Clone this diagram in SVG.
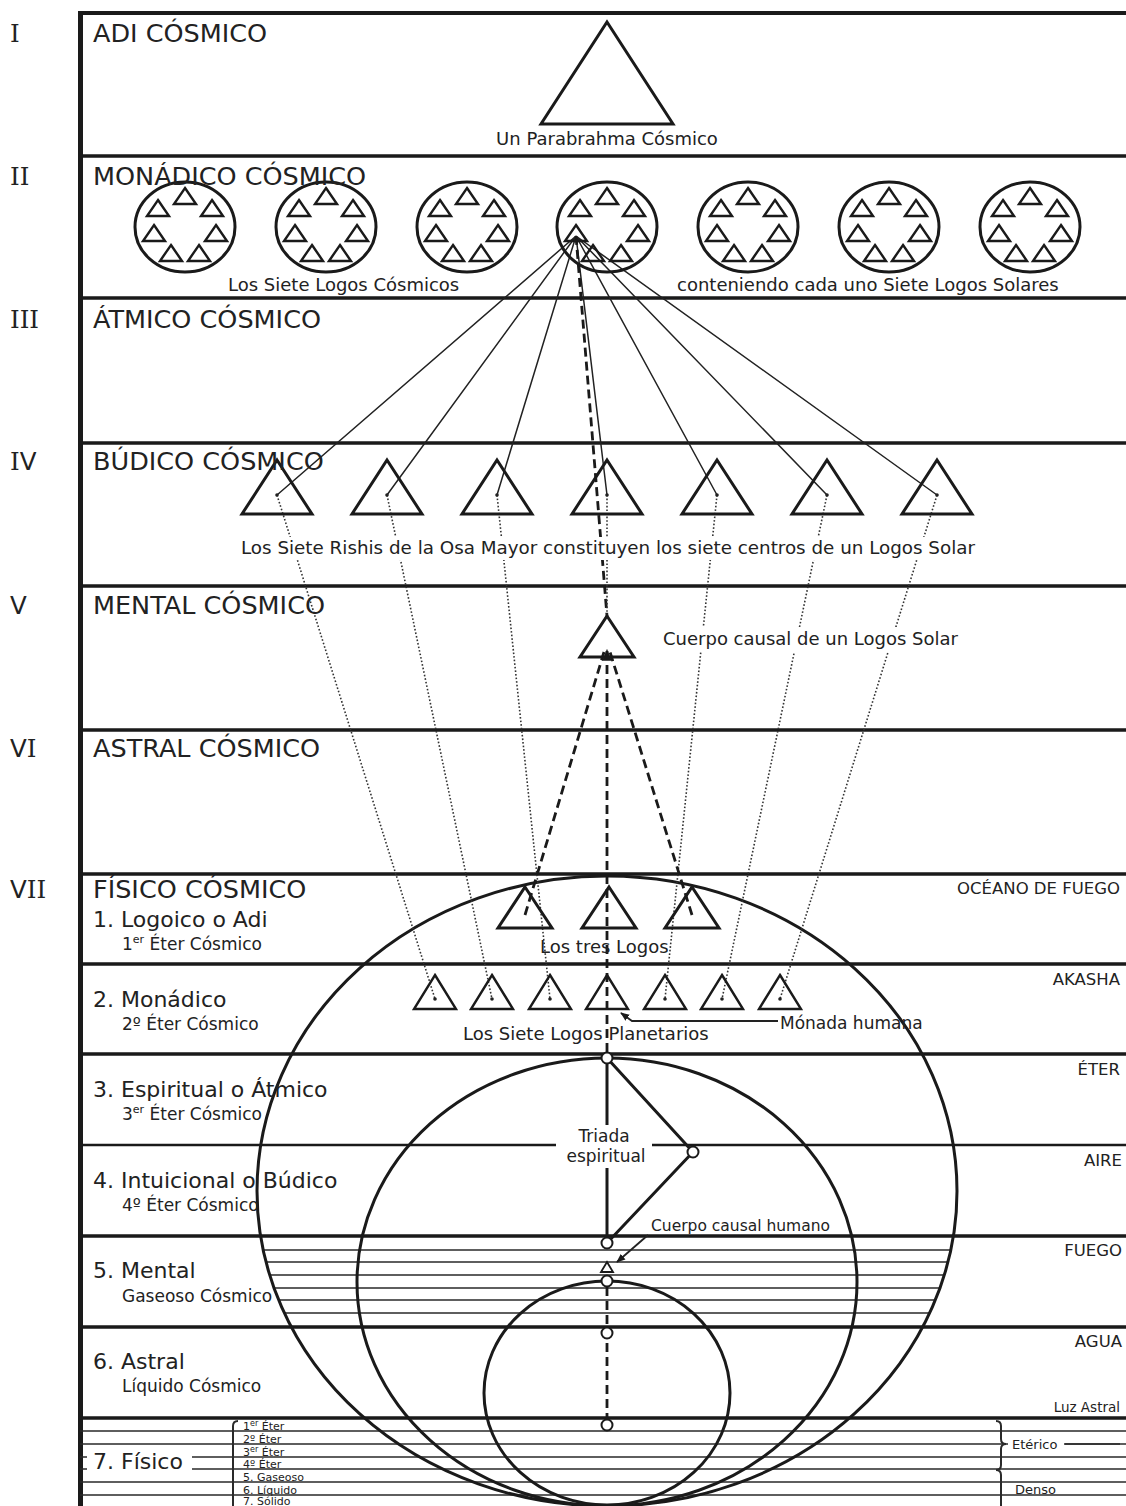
<svg xmlns="http://www.w3.org/2000/svg" width="1126" height="1506" viewBox="0 0 1126 1506">
<style>
text{font-family:"DejaVu Sans",Verdana,"Noto Sans",sans-serif;fill:#222}
.roman{font-size:24.5px}
.ser{font-family:"DejaVu Serif","Liberation Serif",serif}
.h{font-size:25.5px}
.p{font-size:22px}
.s{font-size:17px}
.lab{font-size:18px}
.rl{font-size:16.5px;text-anchor:end}
.xs{font-size:11px}
.br{font-size:13px}
.band{stroke:#1a1a1a;stroke-width:3.5;fill:none}
.thin{stroke:#2a2a2a;stroke-width:1.3;fill:none}
.shape{fill:none;stroke:#1a1a1a;stroke-width:3;stroke-linejoin:miter}
.tri-s{fill:none;stroke:#1a1a1a;stroke-width:2.4}
.dot{fill:#222}
.knot{fill:#fff;stroke:#1a1a1a;stroke-width:2}
.solid{stroke:#222;stroke-width:1.5;fill:none}
.dotted{stroke:#333;stroke-width:1.6;stroke-dasharray:1.6 2;fill:none}
.dashed{stroke:#1a1a1a;stroke-width:2.8;stroke-dasharray:9 5;fill:none}
.bg{fill:#fff}
</style>
<defs>
<path id="tri-small" class="tri-s" d="M0,-16 L11,0 L-11,0 Z"/>
<g id="cosmic-logo">
<ellipse cx="0" cy="0" rx="50" ry="45" class="shape"/>
<use href="#tri-small" x="0" y="-23"/>
<use href="#tri-small" x="-27" y="-11"/>
<use href="#tri-small" x="27" y="-11"/>
<use href="#tri-small" x="-31" y="14"/>
<use href="#tri-small" x="31" y="14"/>
<use href="#tri-small" x="-14" y="34"/>
<use href="#tri-small" x="14" y="34"/>
</g>
<path id="tri-rishi" class="shape" d="M0,0 L35,54 L-35,54 Z"/>
<path id="tri-planet" class="tri-s" d="M0,0 L21,34 L-21,34 Z"/>
<path id="tri-logos" class="shape" d="M0,0 L27,41 L-27,41 Z"/>
<marker id="arrow" viewBox="0 0 10 10" refX="9" refY="5" markerWidth="9" markerHeight="9" markerUnits="userSpaceOnUse" orient="auto"><path d="M0,1 L10,5 L0,9 Z" fill="#1a1a1a"/></marker>
<marker id="arrow-big" viewBox="0 0 10 10" refX="9" refY="5" markerWidth="12" markerHeight="12" markerUnits="userSpaceOnUse" orient="auto"><path d="M0,1 L10,5 L0,9 Z" fill="#1a1a1a"/></marker>
<clipPath id="clip-big"><ellipse cx="607" cy="1191" rx="350" ry="315"/></clipPath>
</defs>

<rect x="0" y="0" width="1126" height="1506" fill="#fff"/>

<g id="frame">
<path class="band" style="stroke-width:4" d="M78,13 H1126"/>
<path class="band" style="stroke-width:5" d="M80.5,11 V1506"/>
<path class="band" d="M80,156 H1126 M80,298 H1126 M80,443 H1126 M80,586 H1126 M80,730 H1126 M80,874 H1126 M80,964 H1126 M80,1054 H1126 M80,1236 H1126 M80,1327 H1126 M80,1418 H1126"/>
<path class="band" style="stroke-width:2.6" d="M80,1145 H1126"/>
<path class="thin" d="M80,1431 H1126 M80,1444 H1126 M80,1457 H1126 M80,1469 H1126 M80,1482 H1126 M80,1495 H1126"/>
<g clip-path="url(#clip-big)">
<path class="thin" d="M250,1250 H970 M250,1262 H970 M250,1275 H970 M250,1288 H970 M250,1300 H970 M250,1313 H970"/>
</g>
<path class="thin" style="stroke-width:2" d="M238,1421 Q233,1421 233,1426 V1506"/>
<path class="thin" style="stroke-width:2" d="M996,1421 Q1001,1421 1001,1426 V1439 Q1001,1444 1006,1444 Q1001,1444 1001,1449 V1465 Q1001,1470 996,1470 Q1001,1470 1001,1475 V1506"/>
</g>

<g id="spheres">
<ellipse cx="607" cy="1191" rx="350" ry="315" class="shape"/>
<ellipse cx="607" cy="1282" rx="250" ry="224" class="shape"/>
<ellipse cx="607" cy="1393" rx="123" ry="112" class="shape"/>
</g>

<g id="connectors">
<path class="solid" d="M576,236 L277,495 M576,236 L387,495 M576,236 L497,495 M576,236 L607,495 M576,236 L717,495 M576,236 L827,495 M576,236 L937,495"/>
<path class="dashed" d="M576,236 L607,616"/>
<path class="dotted" d="M277,495 L435,999 M387,495 L492,999 M497,495 L550,999 M607,495 L607,616 M717,495 L665,999 M827,495 L722,999 M937,495 L780,999"/>
<path class="dashed" d="M525,915 L604,652"/>
<path class="dashed" d="M692,915 L610,652"/>
<path class="dashed" d="M607,1052 V650" marker-end="url(#arrow-big)"/>
<path class="dashed" d="M607,1287 V1420"/>
<path class="shape" d="M607,1058 V1243 M607,1058 L693,1152 L607,1243"/>
<path class="solid" style="stroke-width:1.8" d="M778,1021 H632 L621,1013" marker-end="url(#arrow)"/>
<path class="solid" style="stroke-width:1.8" d="M648,1235 L617,1262" marker-end="url(#arrow)"/>
</g>

<g id="parabrahma">
<path class="shape" d="M607,22 L673,124 L541,124 Z"/>
</g>

<g id="cosmic-logoi">
<use href="#cosmic-logo" x="185" y="227"/>
<use href="#cosmic-logo" x="326" y="227"/>
<use href="#cosmic-logo" x="467" y="227"/>
<use href="#cosmic-logo" x="607" y="227"/>
<use href="#cosmic-logo" x="748" y="227"/>
<use href="#cosmic-logo" x="889" y="227"/>
<use href="#cosmic-logo" x="1030" y="227"/>
</g>

<g id="rishis">
<use href="#tri-rishi" x="277" y="460"/>
<use href="#tri-rishi" x="387" y="460"/>
<use href="#tri-rishi" x="497" y="460"/>
<use href="#tri-rishi" x="607" y="460"/>
<use href="#tri-rishi" x="717" y="460"/>
<use href="#tri-rishi" x="827" y="460"/>
<use href="#tri-rishi" x="937" y="460"/>
<g class="dot"><circle cx="277" cy="495" r="1.8"/><circle cx="387" cy="495" r="1.8"/><circle cx="497" cy="495" r="1.8"/><circle cx="607" cy="495" r="1.8"/><circle cx="717" cy="495" r="1.8"/><circle cx="827" cy="495" r="1.8"/><circle cx="937" cy="495" r="1.8"/></g>
</g>

<g id="solar-causal-body">
<use href="#tri-logos" x="607" y="616"/>
</g>

<g id="three-logoi">
<use href="#tri-logos" x="525" y="887"/>
<use href="#tri-logos" x="609" y="887"/>
<use href="#tri-logos" x="692" y="887"/>
</g>

<g id="planetary-logoi">
<use href="#tri-planet" x="435" y="975"/>
<use href="#tri-planet" x="492" y="975"/>
<use href="#tri-planet" x="550" y="975"/>
<use href="#tri-planet" x="607" y="975"/>
<use href="#tri-planet" x="665" y="975"/>
<use href="#tri-planet" x="722" y="975"/>
<use href="#tri-planet" x="780" y="975"/>
<g class="dot"><circle cx="435" cy="999" r="1.8"/><circle cx="492" cy="999" r="1.8"/><circle cx="550" cy="999" r="1.8"/><circle cx="665" cy="999" r="1.8"/><circle cx="722" cy="999" r="1.8"/><circle cx="780" cy="999" r="1.8"/></g>
</g>

<g id="human-points">
<circle class="knot" cx="607" cy="1058" r="5.5"/>
<circle class="knot" cx="693" cy="1152" r="5.5"/>
<circle class="knot" cx="607" cy="1243" r="5.5"/>
<path class="tri-s" style="stroke-width:1.8" d="M607,1262 L613,1272 L601,1272 Z"/>
<circle class="knot" cx="607" cy="1281" r="5.5"/>
<circle class="knot" cx="607" cy="1333" r="5.5"/>
<circle class="knot" cx="607" cy="1425" r="5.5"/>
</g>

<g id="text-backgrounds" class="bg">
<rect x="236" y="537" width="744" height="23"/>
<rect x="657" y="627" width="309" height="25"/>
<rect x="556" y="1125" width="96" height="43"/>
<rect x="87" y="1447" width="105" height="30"/>
<rect x="1008" y="1437" width="56" height="16"/>
</g>

<g id="roman-numerals" class="roman">
<text x="10" y="42"><tspan class="ser">I</tspan></text>
<text x="10" y="185"><tspan class="ser">II</tspan></text>
<text x="10" y="328"><tspan class="ser">III</tspan></text>
<text x="10" y="470"><tspan class="ser">I</tspan>V</text>
<text x="10" y="614">V</text>
<text x="10" y="757">V<tspan class="ser">I</tspan></text>
<text x="10" y="898">V<tspan class="ser">II</tspan></text>
</g>

<g id="plane-titles" class="h">
<text x="93" y="42">ADI CÓSMICO</text>
<text x="93" y="185">MONÁDICO CÓSMICO</text>
<text x="93" y="328">ÁTMICO CÓSMICO</text>
<text x="93" y="470">BÚDICO CÓSMICO</text>
<text x="93" y="614">MENTAL CÓSMICO</text>
<text x="93" y="757">ASTRAL CÓSMICO</text>
<text x="93" y="898">FÍSICO CÓSMICO</text>
</g>

<g id="subplane-titles">
<text class="p" x="93" y="927">1. Logoico o Adi</text>
<text class="s" x="122" y="950">1<tspan dy="-7" font-size="11">er</tspan><tspan dy="7"> Éter Cósmico</tspan></text>
<text class="p" x="93" y="1007">2. Monádico</text>
<text class="s" x="122" y="1030">2º Éter Cósmico</text>
<text class="p" x="93" y="1097">3. Espiritual o Átmico</text>
<text class="s" x="122" y="1120">3<tspan dy="-7" font-size="11">er</tspan><tspan dy="7"> Éter Cósmico</tspan></text>
<text class="p" x="93" y="1188">4. Intuicional o Búdico</text>
<text class="s" x="122" y="1211">4º Éter Cósmico</text>
<text class="p" x="93" y="1278">5. Mental</text>
<text class="s" x="122" y="1302">Gaseoso Cósmico</text>
<text class="p" x="93" y="1369">6. Astral</text>
<text class="s" x="122" y="1392">Líquido Cósmico</text>
<text class="p" x="93" y="1469">7. Físico</text>
</g>

<g id="physical-subplanes" class="xs">
<text x="243" y="1430">1<tspan dy="-4" font-size="8">er</tspan><tspan dy="4"> Éter</tspan></text>
<text x="243" y="1443">2º Éter</text>
<text x="243" y="1456">3<tspan dy="-4" font-size="8">er</tspan><tspan dy="4"> Éter</tspan></text>
<text x="243" y="1468">4º Éter</text>
<text x="243" y="1481">5. Gaseoso</text>
<text x="243" y="1494">6. Líquido</text>
<text x="243" y="1505">7. Sólido</text>
</g>

<g id="element-labels" class="rl">
<text x="1120" y="894">OCÉANO DE FUEGO</text>
<text x="1120" y="985">AKASHA</text>
<text x="1120" y="1075">ÉTER</text>
<text x="1122" y="1166">AIRE</text>
<text x="1122" y="1256">FUEGO</text>
<text x="1122" y="1347">AGUA</text>
<text x="1120" y="1412" style="font-size:13.5px">Luz Astral</text>
</g>

<g id="bracket-labels" class="br">
<text x="1012" y="1449">Etérico</text>
<text x="1015" y="1494">Denso</text>
</g>
<path class="thin" d="M1065,1444 H1120"/>

<g id="node-labels" class="lab">
<text x="607" y="145" text-anchor="middle">Un Parabrahma Cósmico</text>
<text x="228" y="291">Los Siete Logos Cósmicos</text>
<text x="677" y="291">conteniendo cada uno Siete Logos Solares</text>
<text x="241" y="554" textLength="734" lengthAdjust="spacingAndGlyphs">Los Siete Rishis de la Osa Mayor constituyen los siete centros de un Logos Solar</text>
<text x="663" y="645">Cuerpo causal de un Logos Solar</text>
<text x="540" y="953">Los tres Logos</text>
<text x="463" y="1040">Los Siete Logos Planetarios</text>
<text x="780" y="1029" style="font-size:17px">Mónada humana</text>
<text x="604" y="1142" text-anchor="middle" style="font-size:17px">Triada</text>
<text x="606" y="1162" text-anchor="middle" style="font-size:17px">espiritual</text>
<text x="651" y="1231" style="font-size:15.5px">Cuerpo causal humano</text>
</g>
</svg>
